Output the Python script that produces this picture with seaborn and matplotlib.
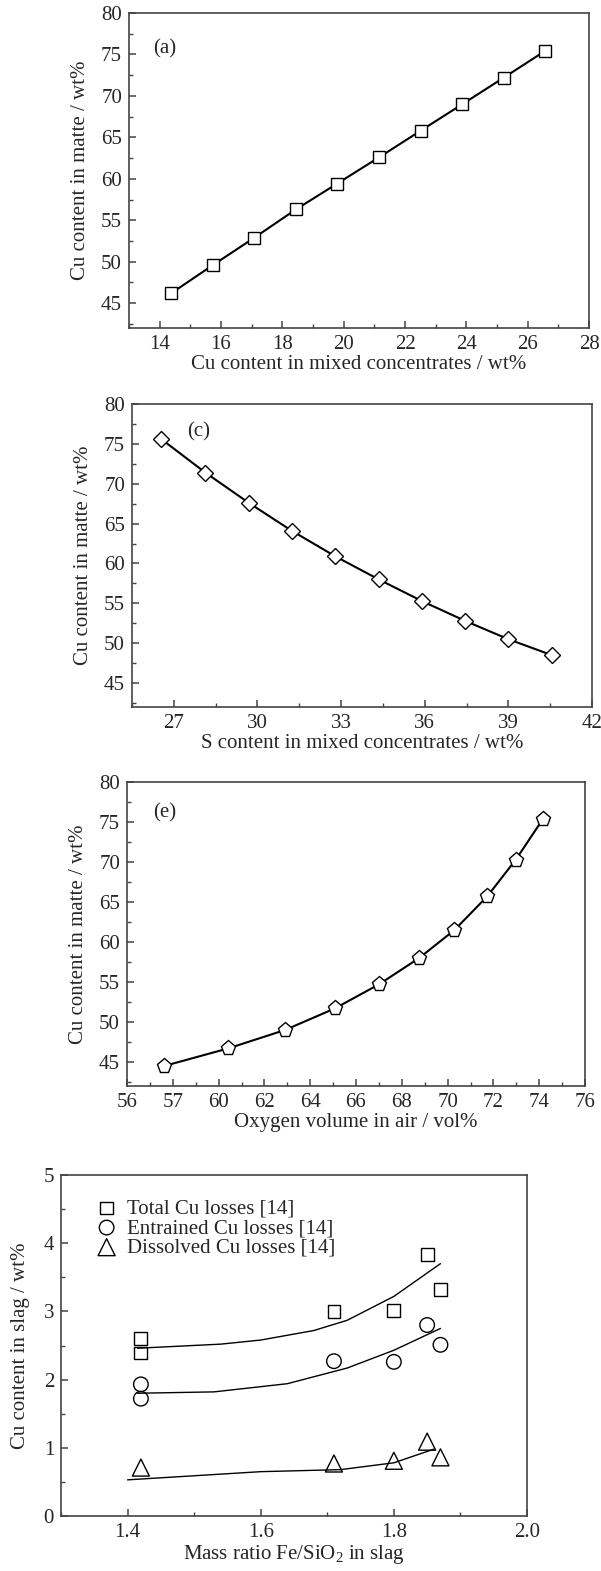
import matplotlib
matplotlib.use("Agg")
import matplotlib.pyplot as plt
import seaborn as sns
from matplotlib.ticker import MultipleLocator

# panel (a)
a_x = [14.38, 15.74, 17.09, 18.44, 19.78, 21.16, 22.51, 23.87, 25.22, 26.56]
a_y = [46.2, 49.6, 52.9, 56.3, 59.4, 62.6, 65.8, 69.0, 72.2, 75.4]

# panel (c)
c_x = [26.55, 28.13, 29.69, 31.23, 32.79, 34.35, 35.89, 37.45, 39.0, 40.56]
c_y = [75.6, 71.4, 67.6, 64.1, 60.9, 58.0, 55.3, 52.8, 50.5, 48.5]

# panel (e)
e_x = [57.62, 60.42, 62.90, 65.08, 67.0, 68.76, 70.30, 71.73, 72.98, 74.17]
e_y = [44.5, 46.7, 49.0, 51.7, 54.7, 58.0, 61.5, 65.7, 70.3, 75.4]
e_ticks = [56, 58, 60, 62, 64, 66, 68, 70, 72, 74, 76]
e_ticklabels = ["56", "57", "60", "62", "64", "66", "68", "70", "72", "74", "76"]

# slag losses panel
loss_x = [1.42, 1.42, 1.71, 1.80, 1.85, 1.87]
total_y = [2.60, 2.39, 3.00, 3.01, 3.84, 3.32]
entr_y = [1.93, 1.72, 2.27, 2.26, 2.80, 2.51]
diss_x = [1.42, 1.71, 1.80, 1.85, 1.87]
diss_y = [0.71, 0.77, 0.81, 1.09, 0.86]

total_line_x = [1.415, 1.54, 1.60, 1.68, 1.73, 1.80, 1.87]
total_line_y = [2.46, 2.52, 2.58, 2.72, 2.87, 3.22, 3.70]
entr_line_x = [1.415, 1.53, 1.64, 1.73, 1.80, 1.87]
entr_line_y = [1.80, 1.82, 1.94, 2.17, 2.43, 2.75]
diss_line_x = [1.40, 1.60, 1.72, 1.80, 1.86]
diss_line_y = [0.53, 0.65, 0.68, 0.78, 0.98]

sns.set_theme(style="ticks")
plt.rcParams["font.family"] = ["Liberation Serif", "DejaVu Serif"]
plt.rcParams["mathtext.fontset"] = "custom"
plt.rcParams["mathtext.rm"] = "Liberation Serif"
plt.rcParams["mathtext.default"] = "regular"
plt.rcParams["xtick.direction"] = "in"
plt.rcParams["ytick.direction"] = "in"

W, H = 601, 1571
fig = plt.figure(figsize=(W / 100, H / 100), dpi=100)


def rect(l, r, t, b):
    return [l / W, 1 - b / H, (r - l) / W, (b - t) / H]


def style_axes(ax):
    for s in ax.spines.values():
        s.set_color("#444444")
        s.set_linewidth(1.2)
    ax.tick_params(which="major", length=5, width=1.1, color="#444444",
                   labelsize=15, pad=5, top=False, right=False)
    ax.tick_params(which="minor", length=3, width=1.0, color="#444444",
                   top=False, right=False)
    ax.grid(False)


ylab = "Cu content in matte / wt%"

# (a)
ax1 = fig.add_axes(rect(129, 589, 13, 328))
sns.lineplot(x=a_x, y=a_y, ax=ax1, color="black", lw=1.5, marker="s",
             markersize=8, markerfacecolor="white", markeredgecolor="black",
             markeredgewidth=1.0, estimator=None)
ax1.set_xlim(13, 28)
ax1.set_ylim(42, 80)
ax1.xaxis.set_major_locator(MultipleLocator(2))
ax1.xaxis.set_minor_locator(MultipleLocator(1))
ax1.set_yticks([45, 50, 55, 60, 65, 70, 75, 80])
ax1.yaxis.set_minor_locator(MultipleLocator(2.5))
ax1.set_xlabel("Cu content in mixed concentrates / wt%", fontsize=15, labelpad=1)
ax1.set_ylabel(ylab, fontsize=15, labelpad=8)
ax1.text(0.052, 0.885, "(a)", transform=ax1.transAxes, fontsize=15, va="center")
style_axes(ax1)

# (c)
ax2 = fig.add_axes(rect(132, 592, 404, 707))
sns.lineplot(x=c_x, y=c_y, ax=ax2, color="black", lw=1.5, marker="D",
             markersize=8, markerfacecolor="white", markeredgecolor="black",
             markeredgewidth=1.0, estimator=None, sort=False)
ax2.set_xlim(25.5, 42)
ax2.set_ylim(42, 80)
ax2.set_xticks([27, 30, 33, 36, 39, 42])
ax2.xaxis.set_minor_locator(MultipleLocator(1.5))
ax2.set_yticks([45, 50, 55, 60, 65, 70, 75, 80])
ax2.yaxis.set_minor_locator(MultipleLocator(2.5))
ax2.set_xlabel("S content in mixed concentrates / wt%", fontsize=15, labelpad=1)
ax2.set_ylabel(ylab, fontsize=15, labelpad=8)
ax2.text(0.12, 0.907, "(c)", transform=ax2.transAxes, fontsize=15, va="center")
style_axes(ax2)

# (e)
ax3 = fig.add_axes(rect(127, 585, 782, 1086))
sns.lineplot(x=e_x, y=e_y, ax=ax3, color="black", lw=1.5, marker="p",
             markersize=11, markerfacecolor="white", markeredgecolor="black",
             markeredgewidth=1.0, estimator=None)
ax3.set_xlim(56, 76)
ax3.set_ylim(42, 80)
ax3.set_xticks(e_ticks)
ax3.set_xticklabels(e_ticklabels)
ax3.xaxis.set_minor_locator(MultipleLocator(1))
ax3.set_yticks([45, 50, 55, 60, 65, 70, 75, 80])
ax3.yaxis.set_minor_locator(MultipleLocator(2.5))
ax3.set_xlabel("Oxygen volume in air / vol%", fontsize=15, labelpad=1)
ax3.set_ylabel(ylab, fontsize=15, labelpad=8)
ax3.text(0.057, 0.898, "(e)", transform=ax3.transAxes, fontsize=15, va="center")
style_axes(ax3)

# slag losses
ax4 = fig.add_axes(rect(61, 527, 1175, 1516))
sns.lineplot(x=total_line_x, y=total_line_y, ax=ax4, color="black", lw=1.0, estimator=None)
sns.lineplot(x=entr_line_x, y=entr_line_y, ax=ax4, color="black", lw=1.0, estimator=None)
sns.lineplot(x=diss_line_x, y=diss_line_y, ax=ax4, color="black", lw=1.0, estimator=None)
sns.scatterplot(x=loss_x, y=total_y, ax=ax4, marker="s", s=85, facecolors="none",
                edgecolor="black", linewidth=1.0, label="Total Cu losses [14]")
sns.scatterplot(x=loss_x, y=entr_y, ax=ax4, marker="o", s=110, facecolors="none",
                edgecolor="black", linewidth=1.0, label="Entrained Cu losses [14]")
sns.scatterplot(x=diss_x, y=diss_y, ax=ax4, marker="^", s=150, facecolors="none",
                edgecolor="black", linewidth=1.0, label="Dissolved Cu losses [14]")
ax4.set_xlim(1.3, 2.0)
ax4.set_ylim(0, 5)
ax4.set_xticks([1.4, 1.6, 1.8, 2.0])
ax4.xaxis.set_minor_locator(MultipleLocator(0.1))
ax4.yaxis.set_major_locator(MultipleLocator(1))
ax4.yaxis.set_minor_locator(MultipleLocator(0.5))
ax4.set_xlabel(r"Mass ratio Fe/SiO$_2$ in slag", fontsize=15, labelpad=1)
ax4.set_ylabel("Cu content in slag / wt%", fontsize=15, labelpad=10)
ax4.legend(loc="upper left", bbox_to_anchor=(0.08, 0.93), frameon=False,
           fontsize=15, handlelength=0.8, handletextpad=0.6, labelspacing=0.0,
           borderpad=0, borderaxespad=0)
style_axes(ax4)

fig.savefig("out.png", dpi=100)
